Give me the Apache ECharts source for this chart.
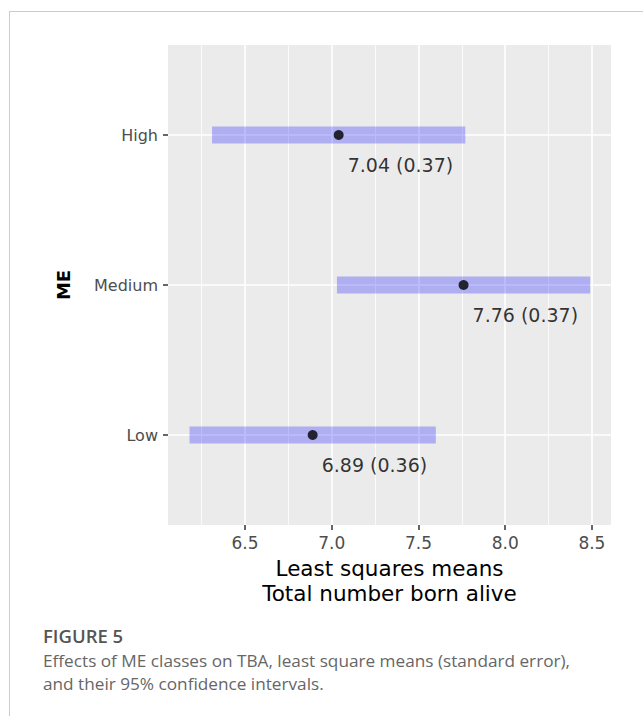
<!DOCTYPE html>
<html>
<head>
<meta charset="utf-8">
<script src="https://cdn.jsdelivr.net/npm/echarts@6/dist/echarts.min.js"></script>
<style>
  html, body { margin: 0; padding: 0; background: #fff; }
  #wrap { position: relative; width: 643px; height: 716px; overflow: hidden; }
  #frame { position: absolute; left: 9px; top: 11px; width: 700px; height: 800px;
           border-left: 1px solid #cccccc; border-top: 1px solid #cccccc; }
  #chart { position: absolute; left: 0; top: 0; width: 643px; height: 716px; }
</style>
</head>
<body>
<div id="wrap">
  <div id="frame"></div>
  <div id="chart"></div>
</div>
<script>
// ME classes, bottom to top
var levels = ['Low', 'Medium', 'High'];
var lsMeans = [6.89, 7.76, 7.04];
var stdErrs = [0.36, 0.37, 0.37];
// 95% confidence limits
var ciLower = [6.18, 7.03, 6.31];
var ciUpper = [7.60, 8.49, 7.77];
var xTicks = [6.5, 7.0, 7.5, 8.0, 8.5];
var levelPos = [1, 2, 3];

var chart = echarts.init(document.getElementById('chart'), null, {renderer: 'svg'});

function buildIntervals(){
    var out = [];
    for (var i = 0; i < levels.length; i++) {
        out.push([ciLower[i], ciUpper[i], levelPos[i]]);
    }
    return out;
}
function buildPoints(){
    var out = [];
    for (var i = 0; i < levels.length; i++) {
        out.push({value: [lsMeans[i], levelPos[i]], se: stdErrs[i]});
    }
    return out;
}
//置信区间条
function renderInterval(params, api){
    var start = api.coord([api.value(0), api.value(2)]);
    var end = api.coord([api.value(1), api.value(2)]);
    var h = 17;
    return {
        type: 'rect',
        shape: {x: start[0], y: start[1] - h / 2, width: end[0] - start[0], height: h},
        style: {fill: 'rgba(0,0,255,0.26)'}
    };
}

var font = 'DejaVu Sans';
var option = {
    animation: false,
    textStyle: {fontFamily: font},
    title: [
        {
            text: 'FIGURE 5', left: 43, top: 626, padding: 0,
            textStyle: {fontFamily: 'Open Sans', fontSize: 18.5, fontWeight: 600, color: '#555555'}
        },
        {
            text: 'Effects of ME classes on TBA, least square means (standard error),\nand their 95% confidence intervals.',
            left: 43, top: 649, padding: 0,
            textStyle: {fontFamily: 'Open Sans', fontSize: 17.2, fontWeight: 'normal', color: '#666666', lineHeight: 23}
        }
    ],
    grid: {left: 168, right: 32, top: 45, bottom: 191, show: true, backgroundColor: '#EBEBEB', borderWidth: 0},
    xAxis: {
        type: 'value', min: 6.056, max: 8.61,
        name: 'Least squares means\nTotal number born alive',
        nameLocation: 'middle', nameGap: 30,
        nameTextStyle: {fontSize: 21.5, color: '#000', lineHeight: 25},
        axisLine: {show: false},
        axisTick: {show: true, length: 5, customValues: xTicks, lineStyle: {color: '#333', width: 1.5}},
        axisLabel: {customValues: xTicks, margin: 9, fontSize: 17, color: '#4D4D4D',
            formatter: function(v){ return v.toFixed(1); }},
        splitLine: {show: true, lineStyle: {color: '#fff', width: 1.6}},
        minorTick: {show: false, splitNumber: 2},
        minorSplitLine: {show: true, lineStyle: {color: '#fff', width: 0.8}}
    },
    yAxis: {
        type: 'value', min: 0.4, max: 3.6,
        name: 'ME', nameLocation: 'middle', nameGap: 96,
        nameTextStyle: {fontSize: 18, fontWeight: 'bold', color: '#000'},
        axisLine: {show: false},
        axisTick: {show: true, length: 5, customValues: levelPos, lineStyle: {color: '#333', width: 1.5}},
        axisLabel: {customValues: levelPos, margin: 10, fontSize: 16, color: '#4D4D4D',
            formatter: function(v){ return levels[Math.round(v) - 1]; }},
        splitLine: {show: true, lineStyle: {color: '#fff', width: 1.6}}
    },
    series: [
        {
            type: 'custom',
            renderItem: renderInterval,
            encode: {x: [0, 1], y: 2},
            data: buildIntervals(),
            z: 2
        },
        {
            type: 'scatter',
            symbolSize: 10,
            itemStyle: {color: '#000'},
            data: buildPoints(),
            z: 3,
            label: {
                show: true, position: [14, 35], align: 'left', verticalAlign: 'middle',
                fontSize: 19, color: '#000',
                formatter: function(p){
                    return p.value[0].toFixed(2) + ' (' + p.data.se.toFixed(2) + ')';
                }
            }
        }
    ]
};
chart.setOption(option);
</script>
</body>
</html>
